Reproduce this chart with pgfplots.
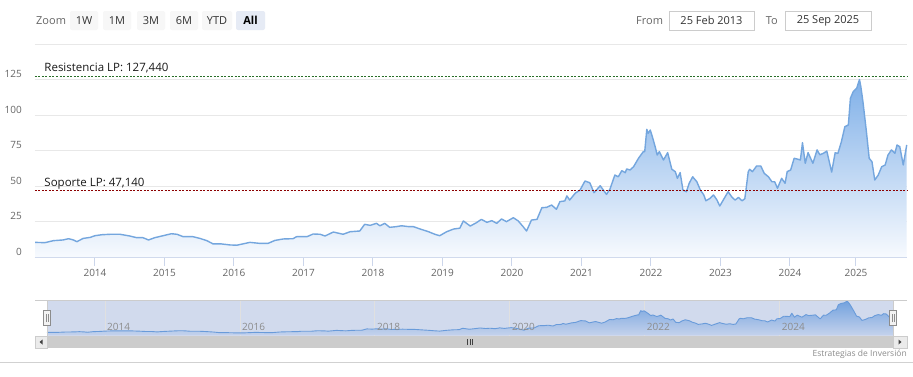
\documentclass[border=0pt]{standalone}
\usepackage{fontspec}
\setmainfont{Open Sans}
\usepackage{pgfplots}
\pgfplotsset{compat=1.18}
\usepackage{pgfplotstable}

\definecolor{lineblue}{RGB}{116,166,222}
\definecolor{areatop}{RGB}{128,176,232}
\definecolor{areabot}{RGB}{247,250,254}
\definecolor{gridc}{RGB}{232,232,232}
\definecolor{axisc}{RGB}{204,214,235}
\definecolor{labc}{RGB}{102,102,102}
\definecolor{resgreen}{RGB}{40,110,40}
\definecolor{supred}{RGB}{140,0,0}
\definecolor{maskc}{RGB}{209,218,237}
\definecolor{navline}{RGB}{105,155,218}
\definecolor{navtop}{RGB}{115,162,222}
\definecolor{navbot}{RGB}{196,210,236}
\definecolor{btn}{RGB}{247,247,247}
\definecolor{btnsel}{RGB}{230,235,245}
\definecolor{boxc}{RGB}{204,204,204}

\pgfplotstableread{
year value
2013.14 10.3
2013.28 10.1
2013.40 11.5
2013.54 12.0
2013.62 12.9
2013.69 12.0
2013.74 10.8
2013.83 13.1
2013.93 13.8
2014.00 15.0
2014.10 15.7
2014.22 16.0
2014.36 16.0
2014.50 14.8
2014.60 13.6
2014.69 13.6
2014.77 12.0
2014.86 13.6
2014.98 15.0
2015.10 16.4
2015.18 16.0
2015.27 14.3
2015.41 14.3
2015.51 13.1
2015.61 11.5
2015.70 9.2
2015.82 9.2
2015.94 8.5
2016.04 8.3
2016.23 10.3
2016.37 9.6
2016.49 9.6
2016.59 11.7
2016.71 12.7
2016.85 12.9
2016.90 14.3
2017.05 14.3
2017.14 16.2
2017.24 16.0
2017.31 14.8
2017.43 17.6
2017.57 16.0
2017.67 17.8
2017.81 18.3
2017.88 23.0
2017.96 22.3
2018.05 23.7
2018.10 22.0
2018.17 23.7
2018.24 20.9
2018.34 21.4
2018.41 22.0
2018.51 21.4
2018.58 21.4
2018.68 19.7
2018.80 17.8
2018.89 16.0
2018.96 15.0
2019.06 17.8
2019.16 19.7
2019.25 20.3
2019.30 25.4
2019.40 21.8
2019.49 24.2
2019.56 26.5
2019.64 24.4
2019.71 25.6
2019.78 23.7
2019.85 26.8
2019.92 24.9
2020.02 27.7
2020.09 25.4
2020.16 21.4
2020.21 18.3
2020.28 26.0
2020.36 26.5
2020.43 34.7
2020.50 35.0
2020.57 36.6
2020.64 33.6
2020.69 39.0
2020.76 39.5
2020.79 43.0
2020.83 40.1
2020.91 44.9
2020.98 47.2
2021.05 53.5
2021.12 52.3
2021.18 45.3
2021.27 50.2
2021.36 44.1
2021.41 47.8
2021.48 57.7
2021.53 56.5
2021.58 60.8
2021.63 59.4
2021.65 62.0
2021.70 61.3
2021.75 63.6
2021.82 69.5
2021.89 74.2
2021.91 74.2
2021.94 89.9
2021.96 87.1
2021.99 89.4
2022.02 84.7
2022.06 77.7
2022.09 71.8
2022.12 74.2
2022.18 68.3
2022.24 73.5
2022.30 61.8
2022.35 60.1
2022.38 55.4
2022.42 59.4
2022.46 47.2
2022.51 46.0
2022.55 51.9
2022.60 56.5
2022.66 53.0
2022.71 47.2
2022.76 43.7
2022.79 39.6
2022.85 41.3
2022.90 43.7
2022.95 40.1
2022.99 35.9
2023.04 40.1
2023.11 46.0
2023.16 42.5
2023.21 40.1
2023.26 42.0
2023.31 39.6
2023.35 41.0
2023.37 48.4
2023.40 60.1
2023.42 61.8
2023.46 60.1
2023.52 64.1
2023.58 64.1
2023.63 58.9
2023.69 56.5
2023.74 53.0
2023.78 53.0
2023.82 48.4
2023.88 55.4
2023.93 51.9
2023.96 60.1
2024.01 61.3
2024.06 69.5
2024.12 68.8
2024.15 68.3
2024.18 80.5
2024.22 66.0
2024.26 73.5
2024.33 66.0
2024.39 75.4
2024.43 72.0
2024.48 73.0
2024.53 74.6
2024.60 59.8
2024.65 73.4
2024.69 73.0
2024.74 81.2
2024.79 91.8
2024.84 93.0
2024.87 111.8
2024.91 116.4
2024.96 118.8
2025.00 125.0
2025.02 119.9
2025.05 109.4
2025.10 88.2
2025.14 69.5
2025.18 67.1
2025.22 54.2
2025.27 57.7
2025.32 63.6
2025.37 64.8
2025.41 71.8
2025.46 75.4
2025.51 73.0
2025.54 78.9
2025.58 77.7
2025.63 64.8
2025.68 78.9
}\pricedata

\begin{document}
\begin{tikzpicture}
\useasboundingbox (0pt,0pt) rectangle (913pt,376pt);
\fill[white] (0pt,0pt) rectangle (913pt,376pt);

\begin{scope}[x=1pt,y=1pt]
% ---- toolbar ----
\node[text=labc, font=\fontsize{11}{13}\selectfont, anchor=west, inner sep=0pt] at (36,355.5) {Zoom};
\foreach \xa/\xb/\lab in {70/98/1W, 103/131/1M, 137/165/3M, 170/198/6M, 202/232/YTD}{
  \fill[btn, rounded corners=2pt] (\xa,346) rectangle (\xb,365);
  \node[text=black!80, font=\fontsize{11}{13}\selectfont, inner sep=0pt] at ({(\xa+\xb)/2},355.5) {\lab};
}
\fill[btnsel, rounded corners=2pt] (236,346) rectangle (265,365);
\node[text=black, font=\fontsize{11}{13}\selectfont\bfseries, inner sep=0pt] at (250.5,355.5) {All};

\node[text=labc, font=\fontsize{11}{13}\selectfont, anchor=west, inner sep=0pt] at (636,355.5) {From};
\draw[boxc, fill=white] (669,346) rectangle (754,365);
\node[text=black!80, font=\fontsize{11}{13}\selectfont, inner sep=0pt] at (711.5,355.5) {25 Feb 2013};
\node[text=labc, font=\fontsize{11}{13}\selectfont, anchor=west, inner sep=0pt] at (765.7,355.5) {To};
\draw[boxc, fill=white] (785,346) rectangle (871,365);
\node[text=black!80, font=\fontsize{11}{13}\selectfont, inner sep=0pt] at (828,355.5) {25 Sep 2025};
\end{scope}

% ---- main chart ----
\begin{axis}[
  at={(35pt,119pt)}, anchor=south west,
  scale only axis, width=872pt, height=213pt,
  xmin=2013.137, xmax=2025.684, ymin=0, ymax=150,
  axis lines*=left,
  y axis line style={draw=none},
  x axis line style={axisc, line width=1pt},
  ytick={0,25,50,75,100,125,150},
  yticklabels={0,25,50,75,100,125,},
  xtick={2014,2015,2016,2017,2018,2019,2020,2021,2022,2023,2024,2024.95},
  xticklabels={2014,2015,2016,2017,2018,2019,2020,2021,2022,2023,2024,2025},
  tick align=outside,
  major tick length=9pt,
  ytick style={draw=none},
  xtick style={axisc, line width=1pt},
  ymajorgrids,
  grid style={gridc, line width=1pt},
  tick label style={text=labc, font=\fontsize{10}{12}\selectfont, inner sep=0pt},
  yticklabel style={anchor=east, xshift=-4pt, yshift=5.5pt},
  xticklabel style={anchor=north, yshift=-3pt},
  clip=false,
]
\addplot[draw=none, top color=areatop, bottom color=areabot] table[x=year,y=value]{\pricedata} \closedcycle;
\addplot[lineblue, line width=1.4pt, line join=round] table[x=year,y=value]{\pricedata};
\addplot[resgreen, line width=0.8pt, dash pattern=on 2pt off 1.5pt] coordinates {(2013.137,127.44) (2025.684,127.44)};
\addplot[supred, line width=0.8pt, dash pattern=on 2pt off 1.5pt] coordinates {(2013.137,47.14) (2025.684,47.14)};
\node[anchor=base west, inner sep=0pt, font=\fontsize{11.5}{13}\selectfont, text=black!90] at (axis cs:2013.27,130.3) {Resistencia LP: 127,440};
\node[anchor=base west, inner sep=0pt, font=\fontsize{11.5}{13}\selectfont, text=black!90] at (axis cs:2013.27,49.6) {Soporte LP: 47,140};
\end{axis}

% ---- navigator ----
\begin{axis}[
  at={(47pt,40pt)}, anchor=south west,
  scale only axis, width=846pt, height=36pt,
  xmin=2013.14, xmax=2025.68, ymin=-3, ymax=129,
  axis line style={draw=none},
  axis background/.style={fill=maskc},
  xtick={2014,2016,2018,2020,2022,2024},
  xticklabels={},
  ytick=\empty,
  major tick length=0pt,
  xmajorgrids,
  grid style={black!12, line width=0.8pt},
  clip=false,
]
\addplot[draw=none, top color=navtop, bottom color=navbot] table[x=year,y=value]{\pricedata} \closedcycle;
\addplot[navline, line width=0.9pt, line join=round] table[x=year,y=value]{\pricedata};
\node[anchor=west, inner sep=0pt, font=\fontsize{10}{12}\selectfont, text=black!45] at (axis cs:2014.03,30) {2014};
\node[anchor=west, inner sep=0pt, font=\fontsize{10}{12}\selectfont, text=black!45] at (axis cs:2016.03,30) {2016};
\node[anchor=west, inner sep=0pt, font=\fontsize{10}{12}\selectfont, text=black!45] at (axis cs:2018.03,30) {2018};
\node[anchor=west, inner sep=0pt, font=\fontsize{10}{12}\selectfont, text=black!45] at (axis cs:2020.03,30) {2020};
\node[anchor=west, inner sep=0pt, font=\fontsize{10}{12}\selectfont, text=black!45] at (axis cs:2022.03,30) {2022};
\node[anchor=west, inner sep=0pt, font=\fontsize{10}{12}\selectfont, text=black!45] at (axis cs:2024.03,30) {2024};
\end{axis}

\begin{scope}[x=1pt,y=1pt]
% navigator outline and handles
\draw[boxc, line width=0.8pt] (35,76) -- (907,76);
\draw[boxc, line width=0.8pt] (47,40) -- (47,76);
\draw[boxc, line width=0.8pt] (893,40) -- (893,76);
\foreach \hx in {47,893}{
  \draw[black!45, fill=black!5, line width=0.6pt] (\hx-3.5,50.5) rectangle (\hx+3.5,65.5);
  \draw[black!45, line width=0.6pt] (\hx-1,54) -- (\hx-1,62) (\hx+1,54) -- (\hx+1,62);
}
% scrollbar
\fill[black!5] (35,28) rectangle (907,40);
\fill[black!20] (47,28) rectangle (893,40);
\draw[black!75, line width=0.6pt] (467.5,31) -- (467.5,37) (470,31) -- (470,37) (472.5,31) -- (472.5,37);
\draw[black!20, fill=black!8] (35,28) rectangle (47,40);
\draw[black!20, fill=black!8] (893,28) rectangle (907,40);
\fill[black!75] (39.5,34) -- (42.5,36.5) -- (42.5,31.5) -- cycle;
\fill[black!75] (901.5,34) -- (898.5,36.5) -- (898.5,31.5) -- cycle;
% credits and bottom line
\node[anchor=east, inner sep=0pt, font=\fontsize{8.5}{10}\selectfont, text=black!45] at (907,22) {Estrategias de Inversión};
\draw[black!18, line width=1pt] (0,14) -- (913,14);
\end{scope}
\end{tikzpicture}
\end{document}
